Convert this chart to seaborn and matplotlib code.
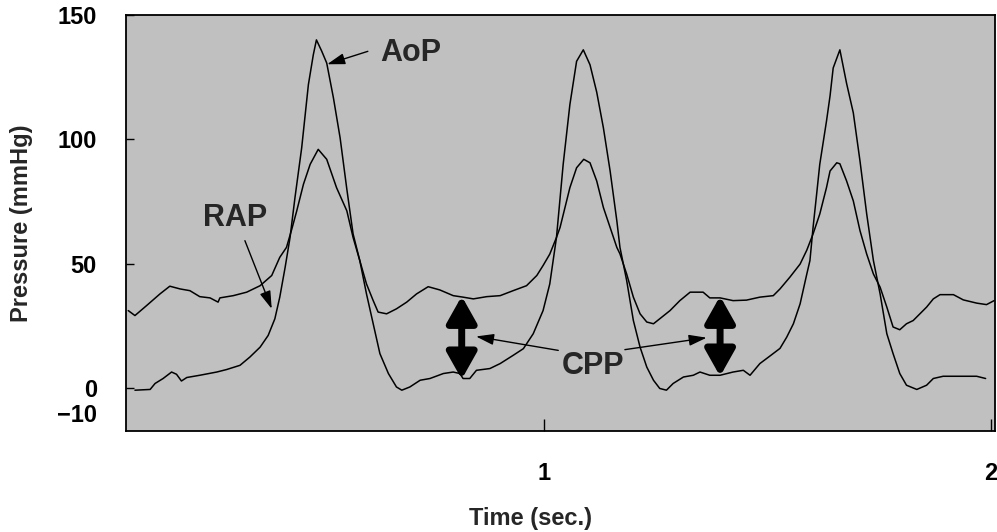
import numpy as np
import pandas as pd
import matplotlib
matplotlib.use("Agg")
import matplotlib.pyplot as plt
import seaborn as sns

# ---- data (time in seconds, pressure in mmHg) ----
aop_time = [0.085, 0.119, 0.130, 0.148, 0.167, 0.178, 0.189, 0.201, 0.230, 0.268,
            0.290, 0.320, 0.342, 0.365, 0.383, 0.398, 0.409, 0.421, 0.432, 0.443,
            0.458, 0.473, 0.484, 0.491, 0.503, 0.514, 0.529, 0.544, 0.559, 0.573,
            0.588, 0.603, 0.618, 0.633, 0.652, 0.670, 0.682, 0.700, 0.723, 0.745,
            0.775, 0.797, 0.812, 0.819, 0.834, 0.849, 0.879, 0.902, 0.931, 0.954,
            0.976, 0.998, 1.013, 1.028, 1.043, 1.058, 1.073, 1.088, 1.103, 1.118,
            1.133, 1.148, 1.163, 1.170, 1.185, 1.200, 1.215, 1.230, 1.245, 1.259,
            1.274, 1.289, 1.312, 1.334, 1.349, 1.371, 1.394, 1.423, 1.446, 1.461,
            1.483, 1.506, 1.528, 1.543, 1.558, 1.573, 1.588, 1.595, 1.602, 1.610,
            1.617, 1.632, 1.640, 1.647, 1.662, 1.677, 1.692, 1.707, 1.722, 1.737,
            1.752, 1.767, 1.781, 1.796, 1.811, 1.834, 1.856, 1.871, 1.893, 1.968,
            1.988]
aop = [-0.8, -0.5, 1.9, 3.9, 6.5, 5.6, 2.9, 4.3, 5.2, 6.5,
       7.5, 9.2, 12.5, 16.5, 21.2, 27.9, 36.6, 48.6, 60.6, 76.6,
       96.6, 122, 134, 140, 135.4, 130.7, 116.7, 100.6, 80, 62,
       51.3, 37.9, 25.9, 13.9, 5.9, 0.5, -0.8, 0.5, 3.2, 3.9,
       5.9, 6.5, 5.9, 3.9, 3.9, 7.2, 7.9, 9.9, 13.2, 15.9,
       21.9, 31.2, 41.9, 60.6, 90, 114, 131.4, 136, 130, 119,
       104.6, 87.3, 67.3, 56.6, 43.3, 27.2, 16.5, 8.5, 3.2, -0.1,
       -0.8, 1.9, 4.5, 5.2, 6.5, 5.2, 5.2, 6.5, 7.2, 5.2,
       9.9, 13.0, 16.0, 20.5, 25.9, 33.9, 45.9, 51.3, 64.6, 78,
       90, 107.3, 117.5, 128.7, 136, 122.5, 110.7, 91.3, 70, 51.3,
       37.9, 21.9, 13.9, 5.9, 1.2, -0.5, 1.2, 3.9, 4.8, 4.8,
       3.9]

rap_time = [0.070, 0.085, 0.111, 0.141, 0.163, 0.186, 0.208, 0.230, 0.253, 0.271,
            0.275, 0.305, 0.335, 0.365, 0.391, 0.409, 0.424, 0.436, 0.447, 0.462,
            0.477, 0.495, 0.514, 0.536, 0.559, 0.573, 0.588, 0.603, 0.618, 0.629,
            0.648, 0.670, 0.693, 0.715, 0.741, 0.767, 0.797, 0.819, 0.842, 0.872,
            0.902, 0.931, 0.961, 0.984, 0.998, 1.013, 1.028, 1.036, 1.058, 1.073,
            1.089, 1.103, 1.118, 1.133, 1.148, 1.163, 1.170, 1.185, 1.200, 1.215,
            1.230, 1.245, 1.259, 1.282, 1.304, 1.327, 1.356, 1.371, 1.394, 1.423,
            1.453, 1.483, 1.513, 1.528, 1.550, 1.573, 1.588, 1.602, 1.617, 1.632,
            1.640, 1.655, 1.662, 1.677, 1.692, 1.707, 1.722, 1.737, 1.752, 1.767,
            1.781, 1.796, 1.811, 1.826, 1.841, 1.856, 1.871, 1.886, 1.916, 1.938,
            1.968, 1.990, 2.007]
rap = [31.2, 29.2, 33.2, 37.9, 41.0, 39.9, 39.2, 36.8, 36.3, 34.6,
       36.3, 37.2, 38.6, 41.2, 45.3, 52.6, 56.6, 64.0, 71.3, 82.0,
       90.0, 96.0, 92.0, 80.6, 71.3, 60.6, 51.3, 41.9, 35.2, 30.6,
       29.9, 31.9, 34.6, 37.9, 40.8, 39.5, 37.2, 36.6, 35.9, 36.8,
       37.2, 39.2, 41.2, 45.3, 49.3, 53.9, 60.6, 64.6, 80.6, 88.6,
       92, 90.6, 83.3, 72.6, 64.6, 56.6, 54, 45.9, 36.6, 29.9,
       26.6, 25.9, 27.9, 31.2, 35.2, 38.6, 38.6, 36.3, 36.3, 35.2,
       35.4, 36.6, 37.2, 39.9, 44.6, 49.9, 55.5, 62, 70, 80.6,
       87.3, 90.6, 90.2, 83.3, 75.3, 63.3, 53.9, 45.9, 40.6, 32.6,
       24.6, 23.5, 25.9, 27.2, 29.9, 32.6, 35.9, 37.6, 37.6, 35.5,
       34.2, 33.6, 35.2]

x_ticks = [1, 2]
x_tick_labels = ["1", "2"]
y_ticks = [0, 50, 100, 150]
y_tick_labels = ["0", "50", "100", "150"]
y_extra_tick = [-10]
y_extra_label = ["\u221210"]

# ---- style ----
sns.set_style("ticks")
plt.rcParams["font.family"] = ["Liberation Sans", "DejaVu Sans"]
plt.rcParams["font.weight"] = "bold"

df = pd.concat([
    pd.DataFrame({"time": aop_time, "pressure": aop, "series": "AoP"}),
    pd.DataFrame({"time": rap_time, "pressure": rap, "series": "RAP"}),
], ignore_index=True)

fig = plt.figure(figsize=(9.97, 5.32), dpi=100)
ax = fig.add_axes([126 / 997, 1 - 431 / 532, (995 - 126) / 997, (431 - 15) / 532])
ax.set_facecolor("#c0c0c0")

sns.lineplot(data=df, x="time", y="pressure", hue="series",
             palette={"AoP": "black", "RAP": "black"}, units="series",
             estimator=None, sort=False, linewidth=1.1, legend=False, ax=ax)

ax.set_xlim(0.065, 2.009)
ax.set_ylim(-17.2, 149.5)

for s in ax.spines.values():
    s.set_visible(True)
    s.set_color("black")
    s.set_linewidth(1.3)

ax.set_xticks(x_ticks)
ax.set_xticklabels(x_tick_labels)
ax.set_yticks(y_ticks)
ax.set_yticklabels(y_tick_labels)
ax.set_yticks(y_extra_tick, minor=True)
ax.set_yticklabels(y_extra_label, minor=True)
ax.set_xticks([], minor=True)

ax.tick_params(axis="x", which="major", direction="in", length=9, width=1,
               pad=22, labelsize=17, colors="black")
ax.tick_params(axis="y", which="major", direction="in", length=6, width=1,
               pad=21, labelsize=17, colors="black")
ax.tick_params(axis="y", which="minor", length=0, pad=21, labelsize=17,
               colors="black")
for lab in ax.get_xticklabels() + ax.get_yticklabels() + ax.get_yticklabels(minor=True):
    lab.set_fontweight("bold")

ax.set_xlabel("Time (sec.)", fontsize=17, fontweight="bold")
ax.set_ylabel("Pressure (mmHg)", fontsize=17, fontweight="bold")
ax.xaxis.set_label_coords(0.465, -0.183)
ax.yaxis.set_label_coords(-0.107, 0.5)

# ---- annotations ----
thin = dict(arrowstyle="-|>,head_length=0.9,head_width=0.28", color="black",
            lw=1.0, mutation_scale=12, shrinkA=0, shrinkB=0)
ax.annotate("AoP", xy=(0.515, 130.2), xytext=(0.633, 134.6),
            fontsize=22, fontweight="bold", va="center", ha="left")
ax.annotate("", xy=(0.515, 130.2), xytext=(0.606, 135.4), arrowprops=thin)

ax.text(0.309, 68.3, "RAP", fontsize=22, fontweight="bold", va="center", ha="center")
ax.annotate("", xy=(0.391, 31.9), xytext=(0.331, 59.3), arrowprops=thin)

ax.text(1.110, 9.0, "CPP", fontsize=22, fontweight="bold", va="center", ha="center")
ax.annotate("", xy=(0.848, 20.8), xytext=(1.032, 15.2), arrowprops=thin)
ax.annotate("", xy=(1.364, 20.3), xytext=(1.181, 15.5), arrowprops=thin)

thick = dict(arrowstyle="<|-|>,head_length=0.8,head_width=0.45", color="black",
             lw=5, mutation_scale=20, shrinkA=0, shrinkB=0)
ax.annotate("", xy=(0.816, 37.0), xytext=(0.816, 3.6), arrowprops=thick)
ax.annotate("", xy=(1.394, 37.0), xytext=(1.394, 4.8), arrowprops=thick)

fig.savefig("out.png", dpi=100, facecolor="white")
